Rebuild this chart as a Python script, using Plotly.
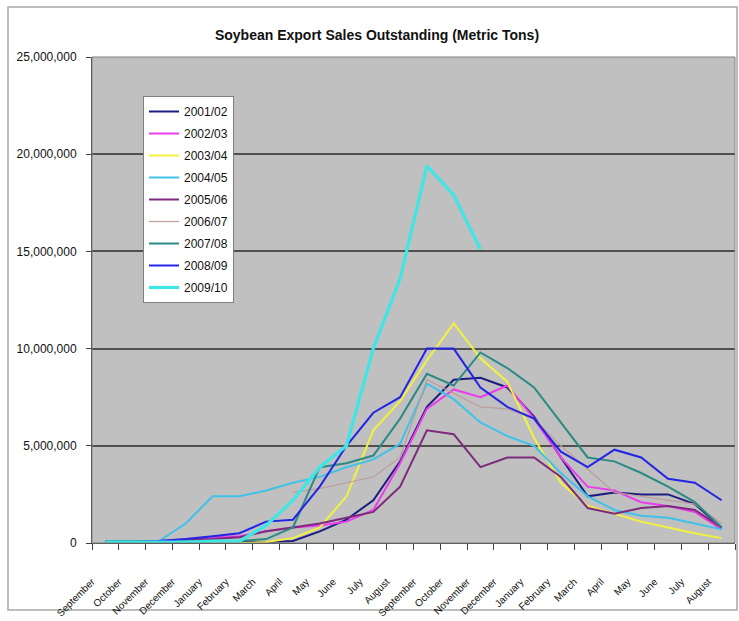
import plotly.graph_objects as go

months = ["September", "October", "November", "December", "January", "February",
          "March", "April", "May", "June", "July", "August"] * 2

series_names = ["2001/02", "2002/03", "2003/04", "2004/05", "2005/06",
                "2006/07", "2007/08", "2008/09", "2009/10"]

# values in million metric tons
s2001 = [0.02, 0.02, 0.05, 0.05, 0.05, 0.05, 0.05, 0.1, 0.6, 1.2, 2.2, 4.2,
         7.0, 8.4, 8.5, 8.0, 6.5, 4.4, 2.4, 2.6, 2.5, 2.5, 2.0, 0.8]
s2002 = [0.05, 0.05, 0.1, 0.2, 0.3, 0.35, 0.6, 0.8, 0.9, 1.1, 1.7, 4.1,
         6.9, 7.9, 7.5, 8.1, 6.4, 4.4, 2.9, 2.7, 2.1, 1.9, 1.6, 0.7]
s2003 = [0, 0, 0, 0, 0, 0, 0.05, 0.25, 0.8, 2.4, 5.8, 7.3,
         9.4, 11.3, 9.5, 8.3, 5.4, 3.1, 1.9, 1.5, 1.1, 0.8, 0.5, 0.25]
s2004 = [0.05, 0.05, 0.1, 1.0, 2.4, 2.4, 2.7, 3.1, 3.4, 3.9, 4.3, 5.1,
         8.2, 7.4, 6.2, 5.5, 5.0, 3.6, 2.4, 1.7, 1.4, 1.3, 1.0, 0.7]
s2005 = [0.05, 0.05, 0.1, 0.15, 0.2, 0.3, 0.6, 0.8, 1.0, 1.3, 1.6, 2.9,
         5.8, 5.6, 3.9, 4.4, 4.4, 3.4, 1.8, 1.5, 1.8, 1.9, 1.7, 0.8]
s2006 = [None, None, None, None, None, None, None, 2.6, 2.8, 3.1, 3.4, 4.4,
         8.4, 7.7, 7.0, 6.9, 6.4, 5.0, 3.8, 2.6, 2.4, 2.2, 2.0, 1.0]
s2007 = [0.1, 0.1, 0.1, 0.1, 0.1, 0.1, 0.2, 0.8, 3.9, 4.1, 4.5, 6.4,
         8.7, 8.1, 9.8, 9.0, 8.0, 6.2, 4.4, 4.2, 3.6, 2.9, 2.1, 0.8]
s2008 = [0.05, 0.05, 0.1, 0.2, 0.35, 0.5, 1.1, 1.2, 2.9, 5.0, 6.7, 7.5,
         10.0, 10.0, 8.0, 7.0, 6.4, 4.7, 3.9, 4.8, 4.4, 3.3, 3.1, 2.2]
s2009 = [0.05, 0.05, 0.05, 0.05, 0.1, 0.1, 0.9, 2.2, 3.9, 5.0, 10.0, 13.6,
         19.4, 17.9, 15.1, None, None, None, None, None, None, None, None, None]

y_ticks = [0, 5000000, 10000000, 15000000, 20000000, 25000000]

all_series = [s2001, s2002, s2003, s2004, s2005, s2006, s2007, s2008, s2009]
colors = ["#1c1c82", "#ec3cec", "#f2f23e", "#3fc2ea", "#7d2a7d",
          "#bc9c9c", "#2b8a84", "#2424e4", "#3ee6e6"]
widths = [2, 2, 2, 2, 2, 1.2, 2, 2, 3.2]

W, H = 739, 621
L, R, T, B = 92, 735, 57, 543
pw, ph = R - L, B - T

fig = go.Figure()
x_idx = list(range(len(months)))
for name, vals, c, w in zip(series_names, all_series, colors, widths):
    yv = [None if v is None else v * 1e6 for v in vals]
    fig.add_trace(go.Scatter(x=x_idx, y=yv, mode="lines", name=name,
                             legendgroup=name,
                             line=dict(color=c, width=w), connectgaps=False))

# Excel-style: labels hang from the category boundary ticks
label_pos = [i - 0.5 for i in x_idx]
last_boundary = [len(months) - 0.5]

fig.update_layout(
    width=W, height=H,
    margin=dict(l=L, r=W - R, t=T, b=H - B, pad=0),
    paper_bgcolor="white",
    plot_bgcolor="#c0c0c0",
    font=dict(family="Liberation Sans, Arial, sans-serif", color="#111111"),
    title=dict(text="<b>Soybean Export Sales Outstanding (Metric Tons)</b>",
               x=377 / W, xanchor="center", xref="container",
               y=1 - 35 / H, yanchor="middle", yref="container",
               font=dict(size=14, color="#111111")),
    showlegend=True,
    legend=dict(x=(143 - L) / pw, y=(B - 96) / ph, xanchor="left", yanchor="top",
                bgcolor="white", bordercolor="#808080", borderwidth=1,
                font=dict(size=12), tracegroupgap=3, itemwidth=30),
    xaxis=dict(range=[-0.5, len(months) - 0.5], tickmode="array",
               tickvals=label_pos, ticktext=months, tickangle=-45,
               tickfont=dict(size=10), ticks="outside", ticklen=6,
               tickcolor="#404040", showgrid=False, zeroline=False,
               showline=True, linecolor="#404040", linewidth=1,
               ticklabelstandoff=22, automargin=False,
               minor=dict(tickmode="array", tickvals=last_boundary, ticks="outside",
                          ticklen=6, tickcolor="#404040", showgrid=False)),
    yaxis=dict(range=[0, 25000000], tickmode="array", tickvals=y_ticks,
               tickformat=",d", tickfont=dict(size=12), ticks="outside",
               ticklen=5, tickcolor="#404040", showgrid=True,
               gridcolor="#505050", gridwidth=1.5, zeroline=False,
               showline=True, linecolor="#404040", linewidth=1,
               ticklabelstandoff=7, automargin=False),
    shapes=[
        dict(type="rect", xref="paper", yref="paper", x0=0, x1=1, y0=0, y1=1,
             line=dict(color="#808080", width=1), layer="above"),
        dict(type="rect", xref="paper", yref="paper",
             x0=(8 - L) / pw, x1=(737 - L) / pw,
             y0=(B - 610) / ph, y1=(B - 7) / ph,
             line=dict(color="#a8a8a8", width=1.5), layer="below"),
    ],
)

fig.write_html("out.html")
